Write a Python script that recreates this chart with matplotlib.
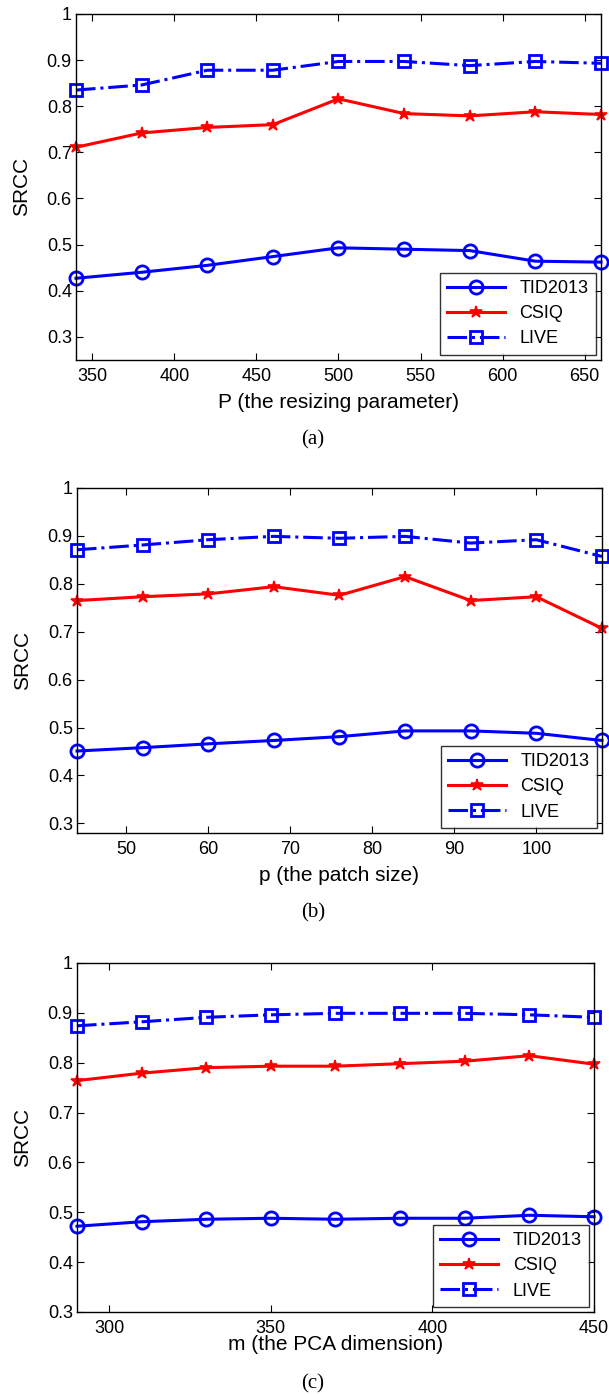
#!/usr/bin/env python3

import matplotlib
matplotlib.use("Agg")
import matplotlib.pyplot as plt

plt.rcParams["font.family"] = ["Liberation Sans", "DejaVu Sans"]

# (a) resizing parameter P
p_resize = [340, 380, 420, 460, 500, 540, 580, 620, 660]
tid_a = [0.427, 0.440, 0.455, 0.474, 0.493, 0.490, 0.487, 0.464, 0.462]
csiq_a = [0.711, 0.742, 0.754, 0.760, 0.816, 0.784, 0.779, 0.788, 0.782]
live_a = [0.835, 0.846, 0.878, 0.878, 0.897, 0.897, 0.888, 0.897, 0.893]

# (b) patch size p
p_patch = [44, 52, 60, 68, 76, 84, 92, 100, 108]
tid_b = [0.451, 0.458, 0.466, 0.473, 0.481, 0.493, 0.493, 0.488, 0.473]
csiq_b = [0.765, 0.773, 0.779, 0.794, 0.776, 0.815, 0.765, 0.773, 0.707]
live_b = [0.871, 0.881, 0.892, 0.899, 0.895, 0.899, 0.885, 0.892, 0.857]

# (c) PCA dimension m
m_pca = [290, 310, 330, 350, 370, 390, 410, 430, 450]
tid_c = [0.472, 0.481, 0.486, 0.488, 0.486, 0.488, 0.488, 0.494, 0.491]
csiq_c = [0.764, 0.779, 0.790, 0.793, 0.793, 0.798, 0.803, 0.814, 0.797]
live_c = [0.874, 0.882, 0.891, 0.896, 0.899, 0.899, 0.899, 0.896, 0.891]

y_ticks = [0.3, 0.4, 0.5, 0.6, 0.7, 0.8, 0.9, 1.0]
y_labels = ["0.3", "0.4", "0.5", "0.6", "0.7", "0.8", "0.9", "1"]

panels = [
    dict(x=p_resize, tid=tid_a, csiq=csiq_a, live=live_a,
         xlim=(340, 660), ylim=(0.25, 1.0), xticks=[350, 400, 450, 500, 550, 600, 650],
         xlabel="P (the resizing parameter)", cap="(a)",
         rect=[0.1248, 0.742, 0.862, 0.248], xlab_y=402, cap_y=440),
    dict(x=p_patch, tid=tid_b, csiq=csiq_b, live=live_b,
         xlim=(44, 108), ylim=(0.28, 1.0), xticks=[50, 60, 70, 80, 90, 100],
         xlabel="p (the patch size)", cap="(b)",
         rect=[0.1264, 0.4029, 0.862, 0.2473], xlab_y=875, cap_y=913),
    dict(x=m_pca, tid=tid_c, csiq=csiq_c, live=live_c,
         xlim=(290, 450), ylim=(0.3, 1.0), xticks=[300, 350, 400, 450],
         xlabel="m (the PCA dimension)", cap="(c)",
         rect=[0.1264, 0.0595, 0.849, 0.2502], xlab_y=1345, cap_y=1384),
]

H = 1395
fig = plt.figure(figsize=(6.09, 13.95), dpi=100)

for pn in panels:
    ax = fig.add_axes(pn["rect"])
    ax.plot(pn["x"], pn["tid"], color="blue", linestyle="-", linewidth=2.2,
            marker="o", markersize=9.5, markerfacecolor="none", markeredgewidth=2.0,
            label="TID2013", clip_on=False)
    ax.plot(pn["x"], pn["csiq"], color="red", linestyle="-", linewidth=2.2,
            marker="*", markersize=9, markeredgewidth=1.2,
            label="CSIQ", clip_on=False)
    ax.plot(pn["x"], pn["live"], color="blue", linestyle="-.", linewidth=2.2,
            marker="s", markersize=9, markerfacecolor="none", markeredgewidth=2.0,
            label="LIVE", clip_on=False)

    ax.set_xlim(pn["xlim"])
    ax.set_ylim(pn["ylim"])
    ax.set_xticks(pn["xticks"])
    ax.set_yticks(y_ticks)
    ax.set_yticklabels(y_labels)
    ax.tick_params(direction="in", length=5, width=0.8, top=True, right=True,
                   labelsize=13)
    ax.tick_params(axis="x", pad=6)
    ax.tick_params(axis="y", pad=3)
    for sp in ax.spines.values():
        sp.set_linewidth(1.0)

    ax.set_ylabel("SRCC", fontsize=15)
    ax.yaxis.set_label_coords(-0.086, 0.5)

    # x label and caption placed in figure pixels
    ax.set_xlabel(pn["xlabel"], fontsize=15, va="center")
    bottom_px = H * (1 - pn["rect"][1])
    height_px = H * pn["rect"][3]
    ax.xaxis.set_label_coords(0.5, -(pn["xlab_y"] - bottom_px) / height_px)

    leg = ax.legend(loc="lower right", bbox_to_anchor=(0.99, 0.015), fontsize=13,
                    frameon=True, fancybox=False, borderaxespad=0.0,
                    handlelength=3.2, labelspacing=0.45, borderpad=0.4)
    leg.get_frame().set_edgecolor("black")
    leg.get_frame().set_linewidth(1.0)

    fig.text(0.514, 1 - pn["cap_y"] / H, pn["cap"], ha="center", va="center",
             fontsize=15, family="Liberation Serif")

fig.savefig("out.png", dpi=100)
